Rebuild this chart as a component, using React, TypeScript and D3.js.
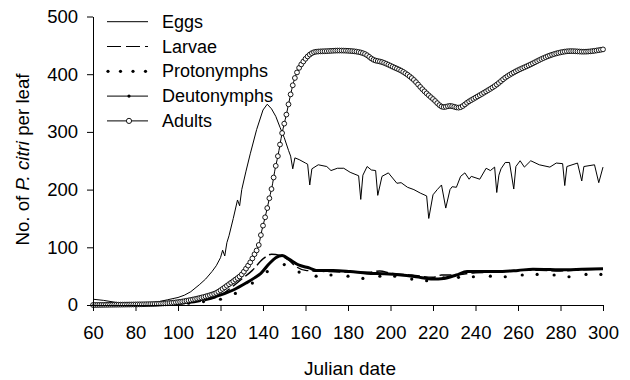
import * as React from "react"
import * as d3 from "d3"

type Pt = [number, number]

// [julian day, mites per leaf]
const eggs: Pt[] = [
  [60, 10], [65, 8], [70, 5], [75, 3], [80, 2], [85, 3], [90, 5], [95, 9], [100, 13],
  [103, 17], [106, 23], [110, 35], [113, 45], [116, 58], [118, 68], [120, 82], [121, 95],
  [122, 85], [123, 108], [124, 120], [126, 150], [128, 182], [129, 172], [130, 200],
  [132, 232], [134, 262], [137, 304], [140, 338], [142, 348], [144, 340], [146, 327],
  [148, 308], [150, 290], [152, 268], [153, 258], [154, 236], [155, 255], [157, 252],
  [160, 246], [161, 244], [162, 208], [163, 236], [166, 243], [170, 240], [172, 233],
  [175, 237], [178, 237], [181, 230], [185, 224], [186, 183], [187, 225], [189, 240],
  [191, 234], [193, 233], [194, 190], [196, 223], [199, 229], [203, 211], [205, 212],
  [208, 204], [211, 200], [214, 194], [217, 189], [218, 150], [220, 191], [222, 200],
  [224, 208], [226, 168], [228, 200], [229, 205], [231, 204], [233, 223], [235, 229],
  [237, 218], [238, 223], [242, 218], [245, 237], [247, 233], [249, 239], [250, 195],
  [251, 225], [252, 236], [254, 247], [256, 247], [258, 201], [259, 240], [261, 250],
  [263, 239], [266, 250], [270, 243], [275, 239], [278, 246], [281, 245], [282, 207],
  [283, 240], [288, 246], [290, 215], [291, 240], [296, 243], [298, 212], [300, 239],
]

const larvae: Pt[] = [
  [60, 1], [80, 0.5], [100, 2], [110, 6], [120, 17], [125, 30], [130, 45], [135, 60],
  [140, 80], [144, 88], [148, 86], [152, 78], [155, 68], [160, 60], [170, 58], [180, 57],
  [190, 57], [195, 59], [200, 55], [210, 52], [220, 48], [224, 52], [230, 52], [240, 56],
  [250, 57], [260, 60], [270, 60], [280, 59], [290, 61], [300, 62],
]

const protonymphs: Pt[] = [
  [60, 0.5], [67, 0.5], [75, 0.5], [82, 0.5], [90, 1], [97, 2], [105, 3], [112, 6],
  [120, 10], [127, 20], [135, 38], [142, 58], [150, 70], [157, 57], [165, 50], [172, 52],
  [180, 50], [187, 46], [195, 50], [202, 50], [210, 45], [217, 42], [225, 47], [232, 48],
  [239, 49], [247, 50], [254, 49], [262, 52], [269, 53], [277, 52], [284, 49], [292, 53],
  [299, 53],
]

const deutonymphs: Pt[] = [
  [60, 0.5], [80, 0.5], [100, 3], [110, 9], [118, 15], [126, 26], [132, 38], [136, 47],
  [139, 55], [143, 72], [146, 82], [149, 86], [152, 80], [157, 69], [162, 64], [165, 60],
  [173, 60], [181, 58], [189, 55], [197, 54], [205, 52], [212, 49], [220, 45], [225, 46],
  [231, 52], [236, 58], [250, 58], [260, 60], [267, 62], [283, 61], [290, 62], [300, 63],
]

const adults: Pt[] = [
  [60, 0], [70, 0.5], [80, 1], [90, 2], [100, 5], [105, 8], [110, 12], [115, 17],
  [118, 21], [121, 28], [124, 36], [127, 44], [130, 53], [132, 63], [134, 74], [136, 88],
  [138, 104], [139.5, 130], [141, 152], [142, 168], [143, 185], [144.5, 210], [145.5, 232],
  [147, 258], [149, 298], [151, 330], [152.7, 360], [154.3, 385], [156.6, 408], [159, 422],
  [162, 434], [165, 439], [170, 440], [176, 441], [182, 440], [188, 435], [192, 425],
  [196, 421], [201, 413], [206, 404], [211, 390], [215, 374], [220, 357], [225, 343],
  [228, 345], [232, 342], [237, 353], [244, 368], [250, 382], [254, 394], [259, 405],
  [266, 417], [272, 428], [278, 436], [285, 440], [291, 439], [300, 443],
]

const xTicks = [60, 80, 100, 120, 140, 160, 180, 200, 220, 240, 260, 280, 300]
const yTicks = [0, 100, 200, 300, 400, 500]
const legendNames = ["Eggs", "Larvae", "Protonymphs", "Deutonymphs", "Adults"]

const font = "'Liberation Sans', Arial, sans-serif"

export default function App() {
  const xAxisRef = React.useRef<SVGGElement>(null)
  const yAxisRef = React.useRef<SVGGElement>(null)
  const adultPathRef = React.useRef<SVGPathElement>(null)
  const adultMarksRef = React.useRef<SVGGElement>(null)

  const x = d3.scaleLinear().domain([60, 300]).range([93, 603])
  const y = d3.scaleLinear().domain([0, 500]).range([305, 16.5])

  React.useEffect(() => {
    const xa = d3.select(xAxisRef.current!)
      .call(d3.axisBottom(x).tickValues(xTicks).tickSize(6).tickSizeOuter(0).tickPadding(15))
    const ya = d3.select(yAxisRef.current!)
      .call(d3.axisLeft(y).tickValues(yTicks).tickSize(6).tickSizeOuter(0).tickPadding(9))
    for (const a of [xa, ya]) {
      a.attr("font-family", font).attr("font-size", 18.5)
      a.selectAll("text").attr("fill", "#000")
      a.selectAll("line").attr("stroke", "#000")
      a.select(".domain").attr("stroke", "#000")
    }

    // open-circle markers along the adults curve, one per day like the daily model output
    const path = adultPathRef.current!
    const total = path.getTotalLength()
    const spots: { x: number, y: number }[] = []
    for (let day = 60; day <= 300; day++) {
      const tx = x(day)
      let lo = 0, hi = total
      for (let k = 0; k < 30; k++) {
        const mid = (lo + hi) / 2
        if (path.getPointAtLength(mid).x < tx) lo = mid
        else hi = mid
      }
      const p = path.getPointAtLength((lo + hi) / 2)
      spots.push({ x: p.x, y: p.y })
    }
    d3.select(adultMarksRef.current!).selectAll("circle").remove()
    d3.select(adultMarksRef.current!).selectAll("circle")
      .data(spots)
      .enter().append("circle")
      .attr("cx", d => d.x)
      .attr("cy", d => d.y)
      .attr("r", 2.4)
      .attr("fill", "#fff")
      .attr("stroke", "#000")
      .attr("stroke-width", 0.9)
  }, [])

  const straight = d3.line<Pt>().x(d => x(d[0])).y(d => y(d[1]))
  const smooth = d3.line<Pt>().x(d => x(d[0])).y(d => y(d[1])).curve(d3.curveMonotoneX)

  const rowY = (i: number) => 21.7 + i * 24.8

  return (
    <svg width={630} height={380} style={{ position: "absolute", left: 0, top: 0, background: "#fff" }}>
      <g fill="none">
        <path d={straight(eggs)!} stroke="#000" strokeWidth={1} />
        <path d={smooth(larvae)!} stroke="#000" strokeWidth={1.4} strokeDasharray="12 4" />
        <path d={smooth(deutonymphs)!} stroke="#000" strokeWidth={3} />
        <path ref={adultPathRef} d={smooth(adults)!} stroke="#000" strokeWidth={1} />
      </g>
      {protonymphs.map((d, i) => (
        <circle key={i} cx={x(d[0])} cy={y(d[1])} r={1.6} fill="#000" />
      ))}
      <g ref={adultMarksRef} />

      <g ref={xAxisRef} transform="translate(0,305)" />
      <g ref={yAxisRef} transform="translate(93,0)" />

      {/* legend */}
      <g fontFamily={font} fontSize={18}>
        {legendNames.map((name, i) => (
          <text key={name} x={162} y={rowY(i) + 6}>{name}</text>
        ))}
        <line x1={107} x2={148} y1={rowY(0)} y2={rowY(0)} stroke="#000" />
        <line x1={107} x2={148} y1={rowY(1)} y2={rowY(1)} stroke="#000" strokeWidth={1.2} strokeDasharray="14 5" />
        {[108, 120.5, 133, 145.5].map(cx => (
          <circle key={cx} cx={cx} cy={rowY(2)} r={1.6} fill="#000" />
        ))}
        <line x1={107} x2={148} y1={rowY(3)} y2={rowY(3)} stroke="#000" />
        <circle cx={129} cy={rowY(3)} r={1.6} fill="#000" />
        <line x1={107} x2={148} y1={rowY(4)} y2={rowY(4)} stroke="#000" />
        <circle cx={129} cy={rowY(4)} r={2.6} fill="#fff" stroke="#000" strokeWidth={0.9} />
      </g>

      <text x={350} y={375} textAnchor="middle" fontFamily={font} fontSize={19}>Julian date</text>
      <text transform="translate(29,159.5) rotate(-90)" textAnchor="middle" fontFamily={font} fontSize={18.7}>
        No. of <tspan fontStyle="italic">P. citri</tspan> per leaf
      </text>
    </svg>
  )
}
